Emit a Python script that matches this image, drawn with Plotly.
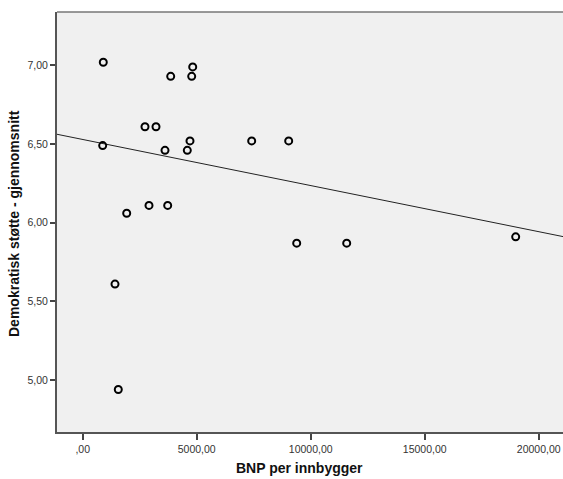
import numpy as np
import plotly.graph_objects as go

bnp = [903, 4825, 3860, 4781, 2732, 3215, 877, 4706, 3610, 4588,
       1930, 2908, 3728, 7412, 9035, 9386, 11579, 18991, 1417, 1561]
stotte = [7.02, 6.99, 6.93, 6.93, 6.61, 6.61, 6.49, 6.52, 6.46, 6.46,
          6.06, 6.11, 6.11, 6.52, 6.52, 5.87, 5.87, 5.91, 5.61, 4.94]

# fit line as shown in the reference
fit_intercept = 6.529
fit_slope = -2.93e-5

x_tickvals = [0, 5000, 10000, 15000, 20000]
x_ticktext = [",00", "5000,00", "10000,00", "15000,00", "20000,00"]
y_tickvals = [5.0, 5.5, 6.0, 6.5, 7.0]
y_ticktext = ["5,00", "5,50", "6,00", "6,50", "7,00"]

x_range = [-1127, 21066]
y_range = [4.67, 7.339]

fit_x = np.array(x_range, dtype=float)
fit_y = fit_intercept + fit_slope * fit_x

fig = go.Figure()
fig.add_trace(go.Scatter(x=fit_x, y=fit_y, mode="lines",
                         line=dict(color="#222222", width=1), hoverinfo="skip"))
fig.add_trace(go.Scatter(x=bnp, y=stotte, mode="markers",
                         marker=dict(symbol="circle-open", size=7, color="black",
                                     line=dict(width=2, color="black"))))

fig.update_layout(
    width=563, height=479,
    margin=dict(l=57, r=0, t=12, b=47, autoexpand=False),
    paper_bgcolor="white", plot_bgcolor="#f0f0f0",
    showlegend=False,
    font=dict(family="Liberation Sans, Arial, sans-serif", color="#333333", size=10),
)
fig.update_xaxes(range=x_range, tickvals=x_tickvals, ticktext=x_ticktext,
                 ticks="outside", ticklen=6, tickwidth=1.5, tickcolor="#444444",
                 showgrid=False, zeroline=False, showline=True, linecolor="#555555",
                 linewidth=2, mirror=False, automargin=False,
                 tickfont=dict(size=10.5, color="#333333"))
fig.update_yaxes(range=y_range, tickvals=y_tickvals, ticktext=y_ticktext,
                 ticks="outside", ticklen=5, tickwidth=1.5, tickcolor="#444444",
                 showgrid=False, zeroline=False, showline=True, linecolor="#555555",
                 linewidth=2, automargin=False,
                 tickfont=dict(size=10.5, color="#333333"))
# top border
fig.add_shape(type="line", xref="paper", yref="paper", x0=0, x1=1, y0=1, y1=1,
              line=dict(color="#777777", width=1.5))

fig.add_annotation(text="<b>BNP per innbygger</b>", xref="paper", yref="paper",
                   x=(299 - 57) / 506, y=0, yshift=-36, yanchor="middle",
                   showarrow=False, font=dict(size=14, color="#111111"))
fig.add_annotation(text="<b>Demokratisk støtte - gjennomsnitt</b>", xref="paper",
                   yref="paper", x=0, xshift=-43, y=(479 - 47 - 224) / 420,
                   textangle=-90, showarrow=False, xanchor="center",
                   font=dict(size=14, color="#111111"))

fig.write_html("out.html", config={"displayModeBar": False},
               post_script="document.body.style.margin='0';document.body.style.overflow='hidden';")
